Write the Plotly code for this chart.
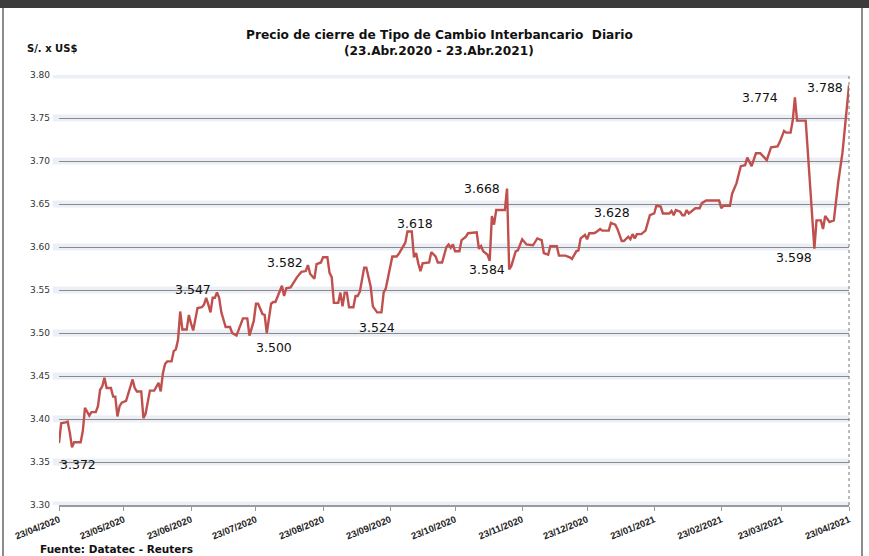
import pandas as pd
import plotly.graph_objects as go

inicio = "2020-04-23"
# dias transcurridos desde el 23/04/2020
dias = [0, 1, 3, 4, 5, 6, 7, 10, 11, 12, 14, 15, 17, 18, 19, 20, 21, 22, 24, 25, 26, 27, 28, 29, 31, 32, 34,
        35, 36, 38, 39, 40, 42, 44, 46, 47, 48, 49, 50, 52, 53, 54, 55, 56, 57, 59,
        60, 61, 62, 64, 66, 67, 68, 69, 70, 71, 72, 73, 74, 75, 77, 79, 80, 82, 83, 85, 87, 88, 90, 91, 92,
        94, 95, 96, 98, 99, 100, 101, 103, 104, 105, 107, 109, 110, 112, 114, 115, 116, 118, 119, 121, 122, 124,
        125, 126, 127, 129, 130, 131, 132, 133, 134, 136, 137, 138, 139, 141, 142, 144, 145, 147, 149, 150, 151,
        154, 156, 157, 159, 160, 161, 163, 164, 165, 166, 167, 168, 171, 172, 174, 175, 177, 179, 180, 181, 182,
        183, 185, 186, 188, 189, 193, 194, 195, 196, 198, 199, 200, 201, 202, 206, 207, 208, 209, 211, 212, 214,
        216, 219, 221, 223, 224, 226, 227, 230, 231, 234, 236, 237, 239, 240, 241, 243, 244, 245, 247, 248, 250,
        251, 254, 255, 257, 258, 260, 261, 263, 264, 265, 266, 267, 269, 271, 273, 275, 276, 278, 279, 282, 283,
        284, 285, 287, 288, 289, 290, 291, 294, 296, 297, 299, 305, 306, 307, 310, 311, 313, 315, 317, 318, 320,
        322, 324, 327, 329, 332, 333, 335, 336, 338, 339, 340, 341, 345, 349, 350, 352, 353, 354, 356, 358, 360,
        362, 365]

tipo_cambio = [3.372, 3.395, 3.396, 3.397, 3.384, 3.367, 3.373, 3.373, 3.386, 3.413, 3.404, 3.408, 3.408, 3.415,
               3.434, 3.438, 3.448, 3.436, 3.436, 3.426, 3.426, 3.403, 3.415, 3.419, 3.421, 3.430, 3.446, 3.436,
               3.432, 3.432, 3.401, 3.406, 3.433, 3.433, 3.442, 3.432, 3.453, 3.464, 3.467, 3.467, 3.479, 3.481,
               3.492, 3.525, 3.504, 3.504,
               3.521, 3.511, 3.503, 3.529, 3.530, 3.533, 3.541, 3.533, 3.524, 3.541, 3.541, 3.547, 3.541, 3.524,
               3.507, 3.507, 3.500, 3.497, 3.503, 3.517, 3.517, 3.497, 3.514, 3.534, 3.534, 3.522, 3.521, 3.500,
               3.534, 3.536, 3.536, 3.542, 3.555, 3.543, 3.552, 3.553, 3.562, 3.565, 3.571, 3.572, 3.579, 3.569,
               3.563, 3.580, 3.582, 3.588, 3.588,
               3.570, 3.565, 3.535, 3.535, 3.547, 3.531, 3.547, 3.547, 3.530, 3.530, 3.543, 3.543, 3.548, 3.576,
               3.576, 3.554, 3.531, 3.524, 3.524, 3.547, 3.552, 3.589, 3.589, 3.592, 3.601, 3.605, 3.618, 3.618,
               3.588, 3.593, 3.581, 3.572, 3.581, 3.582, 3.594, 3.589, 3.582, 3.582, 3.600, 3.603, 3.599, 3.603,
               3.595, 3.595, 3.608, 3.612, 3.616, 3.617, 3.598, 3.601, 3.595, 3.591, 3.584, 3.636, 3.626, 3.643,
               3.643, 3.668, 3.574, 3.578, 3.595, 3.596, 3.609, 3.603, 3.602, 3.610, 3.608, 3.593, 3.591, 3.601,
               3.601, 3.590, 3.590, 3.588, 3.586, 3.595, 3.596, 3.610, 3.614, 3.609, 3.616, 3.616, 3.617, 3.621,
               3.619, 3.619, 3.628, 3.626, 3.621, 3.607, 3.607, 3.612, 3.609, 3.615, 3.610, 3.615, 3.615, 3.619,
               3.637, 3.639, 3.648, 3.647, 3.639, 3.639, 3.642, 3.637, 3.643, 3.641, 3.637, 3.637, 3.643, 3.639,
               3.645, 3.645, 3.651, 3.654, 3.654, 3.645, 3.648, 3.648, 3.662, 3.674, 3.694, 3.695, 3.704, 3.694,
               3.709, 3.709, 3.701, 3.716, 3.717, 3.722, 3.735, 3.733, 3.733, 3.747, 3.774, 3.747, 3.747, 3.598,
               3.631, 3.631, 3.621, 3.636, 3.629, 3.631, 3.675, 3.710, 3.788]

# puntos rotulados (dia)
dias_rotulo = [0, 73, 96, 121, 147, 161, 207, 199, 255, 340, 349, 365]

tick_fechas = ["2020-04-23", "2020-05-23", "2020-06-23", "2020-07-23", "2020-08-23", "2020-09-23",
               "2020-10-23", "2020-11-23", "2020-12-23", "2021-01-23", "2021-02-23", "2021-03-23",
               "2021-04-23"]
tick_textos = ["23/04/2020", "23/05/2020", "23/06/2020", "23/07/2020", "23/08/2020", "23/09/2020",
               "23/10/2020", "23/11/2020", "23/12/2020", "23/01/2021", "23/02/2021", "23/03/2021",
               "23/04/2021"]

assert len(dias) == len(tipo_cambio), (len(dias), len(tipo_cambio))

fechas = pd.Timestamp(inicio) + pd.to_timedelta(dias, unit="D")

fig = go.Figure()
fig.add_trace(go.Scatter(x=fechas, y=tipo_cambio, mode="lines",
                         line=dict(color="#C0504D", width=2.4), hoverinfo="x+y"))

# label offsets (pixels) relative to each labelled point
desplaz = [(19, -21), (-24, 3), (7, -14), (-36, 0), (0, -15), (8, 8), (-25, 0), (-3, -9),
           (1, 10), (-35, 0), (-20, -9), (-24, -2)]
for d, (dx, dy) in zip(dias_rotulo, desplaz):
    i = dias.index(d)
    fig.add_annotation(x=fechas[i], y=tipo_cambio[i], text=f"{tipo_cambio[i]:.3f}",
                       showarrow=False, xshift=dx, yshift=dy, xanchor="center", yanchor="middle",
                       font=dict(family="DejaVu Sans", size=12.5, color="#111111"))

# soft glow behind gridlines
shapes = []
for k in range(11):
    v = 3.30 + 0.05 * k
    shapes.append(dict(type="line", xref="paper", yref="y", x0=-0.008, x1=1.0, y0=v, y1=v,
                       line=dict(color="rgba(208,217,232,0.4)", width=7), layer="below"))
# dotted right edge of plot area
shapes.append(dict(type="line", xref="paper", yref="paper", x0=1, x1=1, y0=0, y1=1.0,
                   line=dict(color="#777777", width=1, dash="dot")))
# frame of the screenshot
W, H, L, R, T, B = 869, 556, 59, 20, 75, 51
pw, ph = W - L - R, H - T - B
def px(x):
    return (x - L) / pw
def py(y):
    return (H - B - y) / ph
shapes.append(dict(type="rect", xref="paper", yref="paper", x0=px(-5), x1=px(875), y0=py(8), y1=py(-5),
                   fillcolor="#3b3b3b", line=dict(width=0)))
shapes.append(dict(type="line", xref="paper", yref="paper", x0=px(3), x1=px(3), y0=py(8), y1=py(560),
                   line=dict(color="#8c8c8c", width=2)))
shapes.append(dict(type="line", xref="paper", yref="paper", x0=px(862), x1=px(862), y0=py(8), y1=py(560),
                   line=dict(color="#8c8c8c", width=2)))

fig.update_layout(
    width=W, height=H,
    margin=dict(l=L, r=R, t=T, b=B),
    paper_bgcolor="white", plot_bgcolor="white",
    showlegend=False,
    shapes=shapes,
    xaxis=dict(type="date", range=[tick_fechas[0], tick_fechas[-1]],
               tickvals=tick_fechas, ticktext=tick_textos, tickangle=-22,
               tickfont=dict(family="Liberation Sans", size=9.5, color="#222222", weight="bold"),
               showgrid=False, showline=True, linecolor="#9a9a9a", linewidth=1.5,
               ticks="outside", ticklen=4, tickcolor="#9a9a9a", zeroline=False),
    yaxis=dict(range=[3.30, 3.80], dtick=0.05, tick0=3.30, tickformat=".2f",
               tickfont=dict(family="DejaVu Sans", size=9, color="#333333"),
               showgrid=True, gridcolor="#8a8a8a", gridwidth=1, zeroline=False,
               showline=False, ticks="", ticklabelstandoff=8),
)

def texto(x, y, t, size, xanchor="center"):
    fig.add_annotation(xref="paper", yref="paper", x=px(x), y=py(y), showarrow=False,
                       xanchor=xanchor, yanchor="middle", text=t,
                       font=dict(family="DejaVu Sans", size=size, color="#111111"))

texto(439, 35, "<b>Precio de cierre de Tipo de Cambio Interbancario  Diario</b>", 12.2)
texto(439, 51, "<b>(23.Abr.2020 - 23.Abr.2021)</b>", 12.2)
texto(25, 48, "<b>S/. x US$</b>", 10, "left")
texto(38, 549, "<b>Fuente: Datatec - Reuters</b>", 10.5, "left")

fig.write_html("out.html", config={"displayModeBar": False},
               post_script="document.body.style.margin='0';document.body.style.overflow='hidden';")
